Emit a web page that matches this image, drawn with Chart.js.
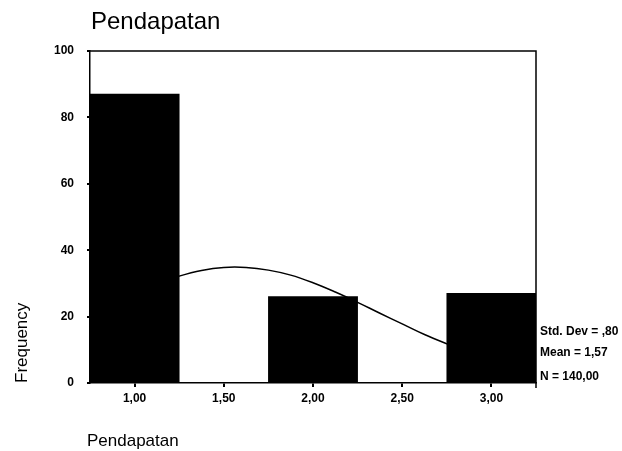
<!DOCTYPE html>
<html>
<head>
<meta charset="utf-8">
<script src="https://cdn.jsdelivr.net/npm/chart.js@4/dist/chart.umd.min.js"></script>
<style>
    html, body { margin: 0; padding: 0; background: #fff; }
    #wrap { width: 622px; height: 451px; }
</style>
</head>
<body>
<div id="wrap"><canvas id="histChart" width="622" height="451"></canvas></div>
<script>
// ==================== Data ====================
const binCenters = [1, 2, 3];
const binCounts = [87, 26, 27];
// normal curve (hidden parts estimated)
const curveX = [0.75, 0.875, 1, 1.125, 1.25, 1.375, 1.5, 1.625, 1.75, 1.875, 2, 2.125, 2.25, 2.375, 2.5, 2.625, 2.75, 2.875, 3, 3.125, 3.25];
const curveY = [20.5, 23.9, 27.1, 29.9, 32.2, 33.9, 34.8, 34.8, 34.0, 32.5, 30.2, 27.4, 24.3, 21.0, 17.8, 14.6, 11.8, 9.2, 7.0, 5.3, 3.9];
const xTickValues = [1, 1.5, 2, 2.5, 3];
const yTickValues = [0, 20, 40, 60, 80, 100];
const statsLines = ['Std. Dev = ,80', 'Mean = 1,57', 'N = 140,00'];
const chartTitle = 'Pendapatan';
const xTitle = 'Pendapatan';
const yTitle = 'Frequency';

const FONT = '"Liberation Sans", Arial, sans-serif';

// frame + free-standing texts (SPSS style)
const spssDecor = {
    id: 'spssDecor',
    afterDraw(chart) {
        const { ctx, chartArea: a } = chart;
        ctx.save();
        ctx.strokeStyle = '#000';
        ctx.lineWidth = 1.5;
        ctx.beginPath();
        ctx.moveTo(a.left, a.top);
        ctx.lineTo(a.right, a.top);
        ctx.lineTo(a.right, a.bottom + 5);
        ctx.stroke();

        ctx.fillStyle = '#000';
        ctx.textAlign = 'left';
        ctx.textBaseline = 'alphabetic';
        ctx.font = '24px ' + FONT;
        ctx.fillText(chartTitle, a.left + 1, a.top - 22);

        ctx.font = '17px ' + FONT;
        ctx.fillText(xTitle, a.left - 3, a.bottom + 63);

        ctx.save();
        ctx.translate(a.left - 63, a.bottom);
        ctx.rotate(-Math.PI / 2);
        ctx.fillText(yTitle, 0, 0);
        ctx.restore();

        ctx.font = 'bold 12px ' + FONT;
        ctx.textBaseline = 'middle';
        const offsets = [51, 30, 6];
        statsLines.forEach((s, i) => {
            ctx.fillText(s, a.right + 4, a.bottom - offsets[i]);
        });
        ctx.restore();
    }
};

const ctx = document.getElementById('histChart');
new Chart(ctx, {
    type: 'bar',
    data: {
        datasets: [{
            type: 'bar',
            data: binCenters.map((x, i) => ({ x, y: binCounts[i] })),
            backgroundColor: '#000',
            borderWidth: 0,
            barPercentage: 1,
            categoryPercentage: 1,
            order: 1
        }, {
            type: 'line',
            data: curveX.map((x, i) => ({ x, y: curveY[i] })),
            borderColor: '#000',
            borderWidth: 1.5,
            pointRadius: 0,
            tension: 0.4,
            fill: false,
            order: 2
        }]
    },
    options: {
        responsive: false,
        animation: false,
        devicePixelRatio: 1,
        layout: { padding: { left: 50, right: 86, top: 51, bottom: 38 } },
        scales: {
            x: {
                type: 'linear',
                min: 0.75,
                max: 3.25,
                offset: false,
                afterBuildTicks: s => { s.ticks = xTickValues.map(v => ({ value: v })); },
                afterFit: s => { s.height = 30; },
                ticks: {
                    color: '#000',
                    padding: 4,
                    maxRotation: 0,
                    font: { family: FONT, size: 12, weight: 'bold' },
                    callback: v => v.toFixed(2).replace('.', ',')
                },
                grid: { display: true, offset: false, drawOnChartArea: false, drawTicks: true, tickLength: 4, color: '#000', lineWidth: 2 },
                border: { display: true, color: '#000', width: 1.5 }
            },
            y: {
                min: 0,
                max: 100,
                afterBuildTicks: s => { s.ticks = yTickValues.map(v => ({ value: v })); },
                afterFit: s => { s.width = 40; },
                ticks: {
                    color: '#000',
                    padding: 13,
                    font: { family: FONT, size: 12, weight: 'bold' }
                },
                grid: { display: true, drawOnChartArea: false, drawTicks: true, tickLength: 3, color: '#000', lineWidth: 2 },
                border: { display: true, color: '#000', width: 1.5 }
            }
        },
        plugins: {
            legend: { display: false },
            tooltip: { enabled: false },
            title: { display: false }
        }
    },
    plugins: [spssDecor]
});
</script>
</body>
</html>
